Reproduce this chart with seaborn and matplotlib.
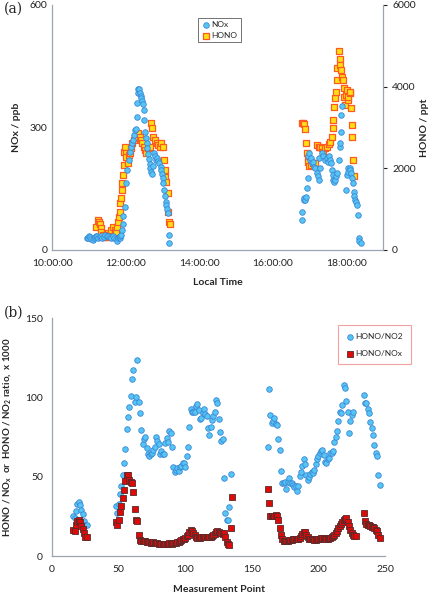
import matplotlib
matplotlib.use("Agg")
import matplotlib.pyplot as plt
import seaborn as sns

# ---- Panel (a): NOx (left axis, ppb) and HONO (right axis, ppt) vs local time (hours)
nox_time = [10.95, 10.98, 11.01, 11.04, 11.07, 11.10, 11.13, 11.16, 11.19, 11.22,
            11.25, 11.29, 11.33, 11.37, 11.41, 11.45, 11.49, 11.53, 11.57, 11.61,
            11.65, 11.69, 11.73, 11.76, 11.79, 11.82, 11.84, 11.86, 11.88, 11.90,
            11.92, 11.94, 11.97, 12.01, 12.05, 12.08, 12.11, 12.14, 12.17, 12.20,
            12.23, 12.26, 12.28, 12.30, 12.31, 12.33, 12.35, 12.37, 12.39, 12.41,
            12.43, 12.45, 12.47, 12.49, 12.51, 12.53, 12.55, 12.57, 12.59, 12.61,
            12.63, 12.65, 12.67, 12.69, 12.72, 12.74, 12.76, 12.79, 12.82, 12.86,
            12.89, 12.92, 12.95, 12.97, 12.99, 13.01, 13.03, 13.05, 13.07, 13.09,
            13.11, 13.13, 13.15, 13.17, 13.19,
            16.79, 16.81, 16.84, 16.85, 16.88, 16.91, 16.93, 16.95, 16.97, 17.00,
            17.02, 17.04, 17.06, 17.09, 17.11, 17.15, 17.20, 17.22, 17.25, 17.27,
            17.29, 17.34, 17.38, 17.43, 17.47, 17.50, 17.52, 17.56, 17.59, 17.61,
            17.64, 17.65, 17.68, 17.70, 17.73, 17.76, 17.79, 17.82, 17.84, 17.85,
            17.86, 17.88, 18.00, 18.02, 18.04, 18.06, 18.09, 18.11, 18.13, 18.15,
            18.18, 18.20, 18.22, 18.25, 18.27, 18.29, 18.31, 18.34, 18.36, 18.40]
nox_ppb = [28, 30, 33, 31, 27, 25, 29, 32, 35, 33,
           30, 31, 34, 30, 32, 36, 33, 35, 31, 29,
           33, 30, 26, 22, 28, 32, 30, 35, 37, 49,
           64, 83, 104, 163, 195, 220, 240, 253, 262, 270,
           282, 294, 296, 325, 359, 385, 393, 393, 384, 378,
           372, 365, 358, 343, 318, 290, 275, 262, 249, 235,
           222, 210, 200, 192, 186, 206, 237, 229, 220, 224,
           218, 212, 204, 196, 186, 175, 163, 147, 131, 118,
           110, 100, 90, 37, 18,
           73, 92, 122, 127, 122, 129, 151, 176, 229, 237,
           220, 225, 212, 215, 204, 200, 188, 180, 171, 224,
           200, 237, 229, 220, 224, 215, 229, 220, 212, 196,
           184, 171, 167, 171, 180, 188, 220, 253, 261, 290,
           331, 353, 147, 184, 200, 192, 200, 196, 188, 176,
           163, 143, 131, 122, 118, 110, 86, 29, 23, 18]

hono_time = [11.20, 11.25, 11.27, 11.29, 11.32, 11.34, 11.38, 11.43, 11.47, 11.52,
             11.56, 11.61, 11.65, 11.70, 11.73, 11.75, 11.76, 11.79, 11.81, 11.84,
             11.85, 11.88, 11.90, 11.91, 11.93, 11.95, 11.96, 11.98, 12.00, 12.02,
             12.06, 12.09, 12.13, 12.15, 12.18, 12.22, 12.25, 12.29, 12.34, 12.38,
             12.43, 12.45, 12.49, 12.52, 12.56, 12.61, 12.65, 12.70, 12.72, 12.75,
             12.79, 12.84, 12.88, 12.93, 12.97, 13.02, 13.05, 13.06, 13.08, 13.11,
             13.14, 13.15, 13.17, 13.20,
             16.79, 16.82, 16.85, 16.88, 16.91, 16.93, 16.95, 16.97, 17.00, 17.04,
             17.09, 17.15, 17.20, 17.25, 17.29, 17.34, 17.38, 17.43, 17.47, 17.52,
             17.56, 17.61, 17.64, 17.65, 17.68, 17.70, 17.73, 17.75, 17.76, 17.79,
             17.82, 17.84, 17.85, 17.88, 17.91, 17.93, 17.95, 17.97, 18.00, 18.02,
             18.05, 18.06, 18.09, 18.11, 18.13, 18.15, 18.17, 18.19, 18.21]
hono_ppt = [571, 735, 694, 637, 531, 449, 367, 310, 310, 408,
            367, 490, 571, 490, 408, 449, 571, 694, 816, 939,
            1143, 1265, 1469, 1633, 1837, 2082, 2408, 2531, 2367, 2286,
            2122, 2327, 2367, 2490, 2612, 2694, 2735, 2776, 2857, 2776,
            2694, 2612, 2531, 2449, 2367, 2490, 2531, 3102, 2980, 2776,
            2694, 2612, 2571, 2531, 2612, 2531, 2204, 1959, 1796, 1673,
            1388, 939, 694, 637,
            3102, 3118, 3086, 2955, 2612, 2367, 2245, 2163, 2065, 2082,
            2139, 2122, 2571, 2531, 2531, 2506, 2408, 2490, 2531, 2596,
            2653, 2776, 2980, 3184, 3510, 3714, 3878, 4163, 4449, 4882,
            4669, 4531, 4408, 4245, 4163, 3959, 3755, 3551, 3796, 3918,
            3673, 3755, 3837, 3878, 3469, 3061, 2776, 2204, 1812]

time_ticks = [10, 12, 14, 16, 18]
time_labels = ["10:00:00", "12:00:00", "14:00:00", "16:00:00", "18:00:00"]

# ---- Panel (b): ratios x 1000 vs measurement point (segments of consecutive points)
no2_starts = [16, 48, 162, 234]
hono_no2 = [
    [25, 24, 28.5, 33, 34, 32.5, 29, 26.5, 22, 19.5, 19.5],
    [31.6, 26.9, 32.8, 39, 44, 51, 58.5, 67.3, 80, 87.5,
     93.8, 101, 111.5, 117.4, 97, 100.6, 124, 97.4, 90.4, 79.5,
     70.7, 73.7, 75.3, 68, 64.4, 63, 64.4, 65.2, 67, 69,
     75.3, 72.8, 70.7, 64.4, 66.5, 64.4, 64.4, 71.5, 74.3, 72.2,
     79, 77.4, 68.6, 56, 53, 54.3, 55.3, 53.9, 56.4, 56.8,
     58.5, 58.9, 56.4, 63, 68.6, 81.2, 92.6, 91, 91, 91,
     94.7, 95.9, 92.2, 86.3, 86.9, 90, 92.6, 89.6, 88.4, 80.6,
     76.4, 81.2, 85.8, 88.4, 91, 98.5, 96.8, 86.3, 78.5, 72.8,
     73.7, 49, 27, 23, 23, 31, 52],
    [69, 105.4, 89, 84, 85, 87, 83, 82.5, 74, 67,
     53.5, 46.3, 46, 47, 42, 47, 49, 46.3, 46, 44.8,
     43.8, 44.2, 41.2, 44.2, 50.5, 53.2, 57, 61, 58, 51,
     48, 50, 52, 53, 52.5, 54, 58, 61, 63, 65,
     66.5, 67, 63.7, 59.6, 59, 61, 62, 65, 64.7, 66.4,
     71.9, 75.3, 79, 85.4, 91, 90, 95, 108, 106, 98,
     91, 77.4, 85.4, 89, 91],
    [101.6, 96.8, 96.5, 92.5, 90, 84.5, 80.6, 76.3, 70, 65,
     63, 51, 45],
]
nox_starts = [16, 48, 162, 234]
hono_nox = [
    [16.4, 16, 19.5, 22, 22.5, 21.5, 19, 17, 14.5, 12.3, 11.8],
    [21.5, 19.6, 23, 27.8, 31.7, 36.6, 41.6, 47.1, 51, 51,
     48, 47, 46.2, 40.6, 29.4, 22.7, 22, 13, 10, 9.5,
     9.5, 9.3, 9.3, 9, 9, 8.8, 8.5, 8.5, 8.8, 8.5,
     8.3, 8, 7.8, 7.5, 7.5, 7.3, 7.5, 7.5, 7.8, 7.8,
     8, 8, 7.8, 8, 8.3, 8.5, 8.8, 9, 9.5, 10,
     10.5, 11, 11.5, 12.5, 13.5, 15, 16.5, 16, 14.5, 13,
     12, 11.5, 11.8, 11.5, 11.8, 12, 12, 12.2, 12, 12.3,
     12, 12.2, 12.5, 13, 14, 15, 15.5, 15.2, 14.8, 14.5,
     14, 14.5, 12, 9, 7.5, 7, 17.5, 37.5],
    [42.3, 33.2, 25.5, 25, 25.5, 25, 26, 25.5, 23, 17.5,
     13.3, 10.5, 9.5, 9.3, 9.3, 9.5, 9.8, 10, 10.2, 10.5,
     10.5, 10.8, 11, 11, 11.5, 12.5, 14, 15.2, 15, 13.5,
     12, 11, 10.8, 10.5, 10.5, 10.3, 10.3, 10.5, 10.8, 11,
     11.3, 11.5, 11.5, 11.3, 11, 11, 11.2, 11.5, 12, 12.8,
     13.5, 14.5, 16, 17.5, 19, 20.5, 21.5, 22.5, 23.5, 23.8,
     21.5, 19, 16.5, 14.5, 13, 12.5, 12.5],
    [27, 22, 20.5, 19.5, 19.5, 19, 18.5, 18.5, 17.5, 16.5,
     15.5, 13.5, 11.5],
]

# ---- style
sns.set_style("white")
plt.rcParams["font.family"] = ["Lato", "DejaVu Sans"]
spine_col = "#9aa5b1"
tick_kw = dict(labelsize=7.5, colors="#222222", length=3, width=0.8)

fig = plt.figure(figsize=(4.34, 5.95), dpi=100)
ax1 = fig.add_axes([0.120, 0.580, 0.7625, 0.4116])
ax1r = ax1.twinx()
ax2 = fig.add_axes([0.120, 0.0655, 0.767, 0.3995])

# ---- panel (a)
sns.scatterplot(x=nox_time, y=nox_ppb, ax=ax1, marker="o", s=16,
                color="#55c6f4", edgecolor="#3c86d6", linewidth=0.6,
                label="NOx", legend=False, zorder=3)
sns.scatterplot(x=hono_time, y=hono_ppt, ax=ax1r, marker="s", s=18,
                color="#ffe014", edgecolor="#ff5a1f", linewidth=0.9,
                label="HONO", legend=False, zorder=3)

ax1.set_xlim(10, 19)
ax1.set_ylim(0, 600)
ax1r.set_ylim(0, 6000)
ax1.set_xticks(time_ticks)
ax1.set_xticklabels(time_labels)
ax1.set_yticks([0, 300, 600])
ax1r.set_yticks([0, 2000, 4000, 6000])
ax1.set_xlabel("Local Time", fontsize=7.5, fontweight="bold", labelpad=7)
ax1.set_ylabel("NOx / ppb", fontsize=7.5, fontweight="bold", labelpad=6)
ax1r.set_ylabel("HONO / ppt", fontsize=7.5, fontweight="bold", labelpad=3)

for a in (ax1, ax1r):
    a.spines["top"].set_visible(False)
    for side in ("left", "bottom", "right"):
        a.spines[side].set_color(spine_col)
        a.spines[side].set_linewidth(0.9)
    a.tick_params(**tick_kw)
ax1.spines["right"].set_visible(False)
ax1r.spines["left"].set_visible(False)
ax1r.spines["bottom"].set_visible(False)
ax1.tick_params(axis="y", length=0)
ax1.set_zorder(ax1r.get_zorder() + 1)
ax1.patch.set_visible(False)

h1, l1 = ax1.get_legend_handles_labels()
h2, l2 = ax1r.get_legend_handles_labels()
leg = ax1.legend(h1 + h2, l1 + l2, loc="upper left", bbox_to_anchor=(0.441, 0.947),
                 fontsize=6, frameon=True, fancybox=False, handletextpad=0.2,
                 borderpad=0.4, labelspacing=0.45, handlelength=1.0,
                 borderaxespad=0)
leg.get_frame().set_edgecolor("#333333")
leg.get_frame().set_linewidth(0.6)

# ---- panel (b)
no2_x, no2_y = [], []
for start, seg in zip(no2_starts, hono_no2):
    no2_x += [start + i for i in range(len(seg))]
    no2_y += seg
nox_x, nox_y = [], []
for start, seg in zip(nox_starts, hono_nox):
    nox_x += [start + i for i in range(len(seg))]
    nox_y += seg

sns.scatterplot(x=no2_x, y=no2_y, ax=ax2, marker="o", s=16,
                color="#55c6f4", edgecolor="#3c86d6", linewidth=0.6,
                label="HONO/NO2", zorder=3)
sns.scatterplot(x=nox_x, y=nox_y, ax=ax2, marker="s", s=14,
                color="#dd0a0a", edgecolor="#5a2a2a", linewidth=0.6,
                label="HONO/NOx", zorder=3)

ax2.set_xlim(0, 250)
ax2.set_ylim(0, 150)
ax2.set_xticks([0, 50, 100, 150, 200, 250])
ax2.set_yticks([0, 50, 100, 150])
ax2.set_xlabel("Measurement Point", fontsize=7.5, fontweight="bold", labelpad=8)
ax2.set_ylabel(r"HONO / NO$_\mathregular{x}$  or  HONO / NO$_\mathregular{2}$ ratio,  x 1000",
               fontsize=7, fontweight="bold", labelpad=8)
for side in ("top", "right"):
    ax2.spines[side].set_visible(False)
for side in ("left", "bottom"):
    ax2.spines[side].set_color(spine_col)
    ax2.spines[side].set_linewidth(0.9)
ax2.tick_params(**tick_kw)

leg2 = ax2.legend(loc="upper left", bbox_to_anchor=(0.859, 0.971), fontsize=6,
                  frameon=True, fancybox=False, handletextpad=0.2, borderpad=0.9,
                  labelspacing=1.2, handlelength=1.0, borderaxespad=0)
leg2.get_frame().set_edgecolor("#f08a8a")
leg2.get_frame().set_linewidth(0.8)

fig.text(0.008, 0.978, "(a)", fontsize=10, family="DejaVu Serif")
fig.text(0.008, 0.468, "(b)", fontsize=10, family="DejaVu Serif")

fig.savefig("out.png", dpi=100)
